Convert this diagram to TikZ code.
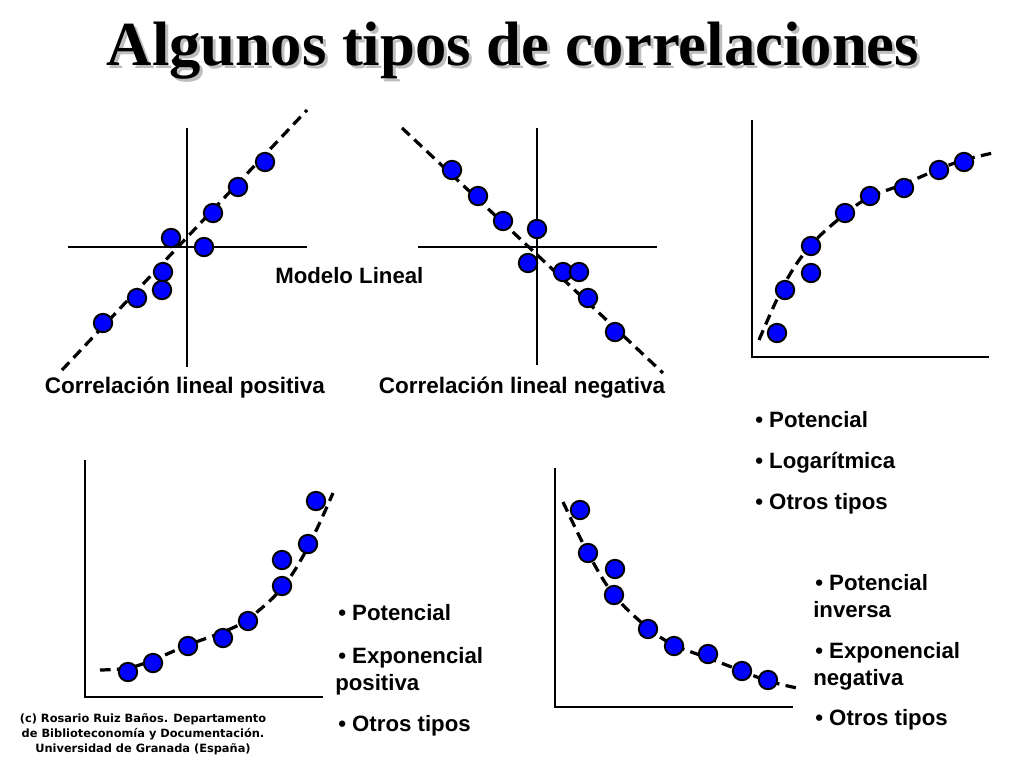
\documentclass[tikz,border=0pt]{standalone}
\usepackage{fontspec}
\setmainfont{Liberation Serif}
\newfontfamily\etiq{Liberation Sans}
\newfontfamily\credito{DejaVu Sans}
\usepackage{xcolor}
\usepackage{tikz}
\usetikzlibrary{positioning}

\definecolor{azulpunto}{RGB}{0,0,255}
\definecolor{sombra}{RGB}{190,190,190}

\tikzset{
  punto/.style={circle, draw=black, line width=1.4pt, fill=azulpunto,
    minimum size=4.6mm, inner sep=0pt},
  eje/.style={line width=1.6pt},
  ajuste/.style={line width=2.3pt, dash pattern=on 7.5pt off 4.5pt},
  rotulo/.style={font=\etiq\bfseries\fontsize{15.8}{18}\selectfont, inner sep=0pt, anchor=base west},
  pie/.style={font=\etiq\bfseries\fontsize{16}{18}\selectfont, inner sep=0pt, anchor=base},
}

\begin{document}
\begin{tikzpicture}[x=0.25mm, y=-0.25mm]
\useasboundingbox (0,0) rectangle (1024,768);

% Título
\node[font=\bfseries\fontsize{44.6}{50}\selectfont, text=sombra, anchor=base, inner sep=0pt] (sombratit) at (516,68) {Algunos tipos de correlaciones};
\node[font=\bfseries\fontsize{44.6}{50}\selectfont, anchor=base, inner sep=0pt] (titulo) at (513,65) {Algunos tipos de correlaciones};

% Correlación lineal positiva
\draw[eje] (187,128) -- (187,367);
\draw[eje] (68,247) -- (307,247);
\draw[ajuste] (62,370) -- (307,110);
\foreach \p [count=\i] in {(265,162),(238,187),(213,213),(171,238),(204,247),
    (163,272),(162,290),(137,298),(103,323)}
  \node[punto] (pos\i) at \p {};

% Correlación lineal negativa
\draw[eje] (537,128) -- (537,365);
\draw[eje] (418,247) -- (657,247);
\draw[ajuste] (402,128) -- (663,373);
\foreach \p [count=\i] in {(452,170),(478,196),(503,221),(537,229),(528,263),
    (563,272),(579,272),(588,298),(615,332)}
  \node[punto] (neg\i) at \p {};

\node[rotulo] (modelo) at (275,283) {Modelo Lineal};
\node[pie] (txtpos) at (185,393) {Correlación lineal positiva};
\node[pie] (txtneg) at (522,393) {Correlación lineal negativa};

% Logarítmica
\draw[eje] (752,120) -- (752,357) -- (989,357);
\draw[ajuste] plot[smooth, tension=0.6] coordinates {(759,340) (785,283) (811,245)
  (845,214) (870,197) (904,184) (939,169) (964,160) (993,153)};
\foreach \p [count=\i] in {(777,333),(785,290),(811,273),(811,246),(845,213),
    (870,196),(904,188),(939,170),(964,162)}
  \node[punto] (log\i) at \p {};

\node[rotulo] (lista1a) at (755,427) {• Potencial};
\node[rotulo] (lista1b) at (755,468) {• Logarítmica};
\node[rotulo] (lista1c) at (755,509) {• Otros tipos};

% Exponencial positiva
\draw[eje] (85,460) -- (85,697) -- (323,697);
\draw[ajuste] plot[smooth, tension=0.6] coordinates {(100,670) (128,668) (153,660)
  (188,645) (223,632) (248,619) (282,588) (308,547) (333,493)};
\foreach \p [count=\i] in {(128,672),(153,663),(188,646),(223,638),(248,621),
    (282,586),(282,560),(308,544),(316,501)}
  \node[punto] (exp\i) at \p {};

\node[rotulo] (lista2a) at (338,620) {• Potencial};
\node[rotulo] (lista2b) at (338,663) {• Exponencial};
\node[rotulo] (lista2c) at (335,690) {positiva};
\node[rotulo] (lista2d) at (338,731) {• Otros tipos};

% Exponencial negativa
\draw[eje] (555,468) -- (555,707) -- (793,707);
\draw[ajuste] plot[smooth, tension=0.6] coordinates {(563,502) (588,553) (614,595)
  (648,628) (674,645) (708,658) (742,671) (768,681) (797,688)};
\foreach \p [count=\i] in {(580,510),(588,553),(615,569),(614,595),(648,629),
    (674,646),(708,654),(742,671),(768,680)}
  \node[punto] (inv\i) at \p {};

\node[rotulo] (lista3a) at (815,590) {• Potencial};
\node[rotulo] (lista3b) at (813,617) {inversa};
\node[rotulo] (lista3c) at (815,658) {• Exponencial};
\node[rotulo] (lista3d) at (813,685) {negativa};
\node[rotulo] (lista3e) at (815,725) {• Otros tipos};

% Créditos
\node[font=\credito\bfseries\fontsize{8.1}{10.7}\selectfont, align=center, inner sep=0pt, anchor=north] (autor) at (143,713)
  {(c) Rosario Ruiz Baños. Departamento\\de Biblioteconomía y Documentación.\\Universidad de Granada (España)};

\end{tikzpicture}
\end{document}
